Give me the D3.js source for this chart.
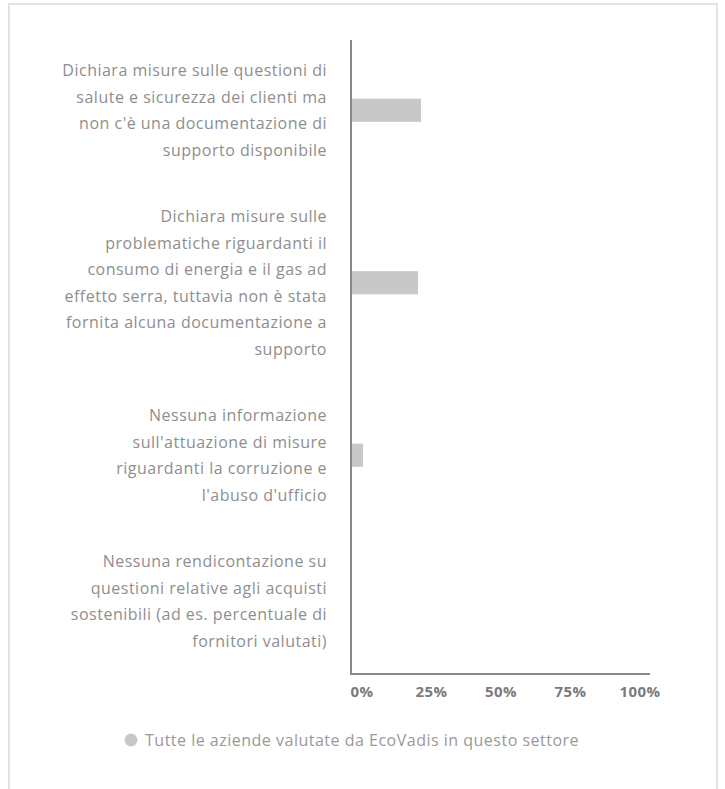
<!DOCTYPE html>
<html>
<head>
<meta charset="utf-8">
<script src="https://cdn.jsdelivr.net/npm/d3@7"></script>
<style>
  html, body { margin: 0; padding: 0; background: #fff; }
  svg { display: block; font-family: "Open Sans", "Noto Sans", sans-serif; }
</style>
</head>
<body>
<svg id="chart" width="725" height="789"></svg>
<script>
// ---- data ----
const categories = [
  ["Dichiara misure sulle questioni di", "salute e sicurezza dei clienti ma", "non c'è una documentazione di", "supporto disponibile"],
  ["Dichiara misure sulle", "problematiche riguardanti il", "consumo di energia e il gas ad", "effetto serra, tuttavia non è stata", "fornita alcuna documentazione a", "supporto"],
  ["Nessuna informazione", "sull'attuazione di misure", "riguardanti la corruzione e", "l'abuso d'ufficio"],
  ["Nessuna rendicontazione su", "questioni relative agli acquisti", "sostenibili (ad es. percentuale di", "fornitori valutati)"]
];
const values = [23.4, 22.4, 4.0, 0];
const tickValues = [0, 25, 50, 75, 100];
const tickLabels = ["0%", "25%", "50%", "75%", "100%"];
const legendLabel = "Tutte le aziende valutate da EcoVadis in questo settore";

// ---- layout ----
const svg = d3.select("#chart");
const axisX = 351, axisTop = 40, axisBottom = 674, plotRight = 650;
const lineH = 26.5;

// frame
svg.append("path")
  .attr("d", `M9,800 L9,4 L717,4 L717,800`)
  .attr("fill", "none").attr("stroke", "#e3e3e3").attr("stroke-width", 2);

const ids = categories.map((c, i) => i);
const x = d3.scaleLinear().domain([0, 100]).range([axisX, plotRight]);
const y = d3.scaleBand().domain(ids).range([24, 714]).paddingInner(0.866).paddingOuter(0.433);
const labelX = d3.scaleLinear().domain([0, 100]).range([362, 640]);

// bars
svg.append("g").selectAll("rect").data(values).join("rect")
  .attr("x", x(0))
  .attr("y", (d, i) => y(i))
  .attr("width", d => x(d) - x(0))
  .attr("height", y.bandwidth())
  .attr("fill", "#c8c8c8");

// category labels
const lg = svg.append("g");
categories.forEach((lines, i) => {
  const n = lines.length;
  let cy = y(i) + y.bandwidth() / 2;
  const maxCy = axisBottom - 33 - (n - 1) * lineH / 2;
  cy = Math.min(cy, maxCy);
  const t = lg.append("text")
    .attr("text-anchor", "end")
    .attr("fill", "#8e8e8e")
    .attr("font-size", 16)
    .attr("letter-spacing", "0.5px");
  lines.forEach((ln, j) => {
    t.append("tspan")
      .attr("x", 327)
      .attr("y", cy + (j - (n - 1) / 2) * lineH)
      .attr("dy", "0.35em")
      .text(ln);
  });
});

// axes lines
svg.append("line")
  .attr("x1", axisX).attr("x2", axisX).attr("y1", axisTop).attr("y2", axisBottom + 1)
  .attr("stroke", "#888").attr("stroke-width", 2);
svg.append("line")
  .attr("x1", axisX - 1).attr("x2", plotRight).attr("y1", axisBottom).attr("y2", axisBottom)
  .attr("stroke", "#888").attr("stroke-width", 2);

// tick labels
svg.append("g").selectAll("text").data(tickValues).join("text")
  .attr("x", d => labelX(d))
  .attr("y", 692)
  .attr("dy", "0.35em")
  .attr("text-anchor", "middle")
  .attr("font-size", 15)
  .attr("letter-spacing", "0.5px")
  .attr("font-weight", "bold")
  .attr("fill", "#7a7a7a")
  .text((d, i) => tickLabels[i]);

// legend
svg.append("circle").attr("cx", 131).attr("cy", 740).attr("r", 6.5).attr("fill", "#c8c8c8");
svg.append("text")
  .attr("x", 145).attr("y", 740).attr("dy", "0.35em")
  .attr("font-size", 16).attr("fill", "#999")
  .attr("letter-spacing", "0.5px")
  .text(legendLabel);
</script>
</body>
</html>
